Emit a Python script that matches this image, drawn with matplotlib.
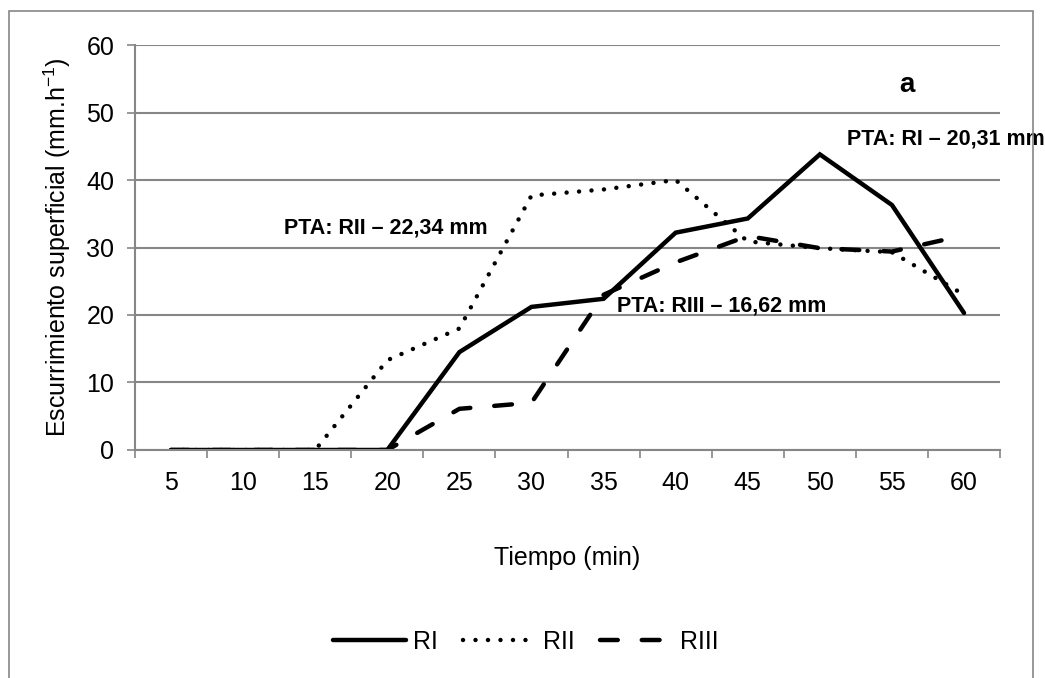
import matplotlib
matplotlib.use("Agg")
import matplotlib.pyplot as plt
from matplotlib.patches import Rectangle

plt.rcParams["font.family"] = ["Liberation Sans", "DejaVu Sans"]

# Data
tiempo = ["5", "10", "15", "20", "25", "30", "35", "40", "45", "50", "55", "60"]
ri = [0, 0, 0, 0, 14.5, 21.2, 22.4, 32.2, 34.3, 43.8, 36.3, 20.3]
rii = [0, 0, 0, 13.3, 18.0, 37.7, 38.6, 40.0, 30.9, 29.9, 29.3, 23.0]
riii = [0, 0, 0, 0, 6.1, 7.0, 23.0, 27.8, 31.7, 29.9, 29.4, 31.8]

grey = "#868686"
fs = 18

fig = plt.figure(figsize=(10.45, 6.78), dpi=100)
ax = fig.add_axes([0.1292, 0.3363, 0.8278, 0.5973])

x = list(range(len(tiempo)))
ax.plot(x, ri, color="black", lw=3.2, solid_capstyle="round", solid_joinstyle="miter", label="RI")
ax.plot(x, rii, color="black", lw=3.2, linestyle=(0, (0.01, 2.8)), dash_capstyle="round", label="RII")
ax.plot(x, riii, color="black", lw=3.2, linestyle=(0, (4.0, 5.4)), dash_capstyle="round", label="RIII")

ax.set_xlim(-0.5, len(tiempo) - 0.5)
ax.set_ylim(0, 60)
ax.set_yticks(range(0, 61, 10))
ax.set_xticks(x)
ax.set_xticklabels(tiempo)
ax.set_xticks([i - 0.5 for i in range(len(tiempo) + 1)], minor=True)
ax.tick_params(axis="x", which="major", length=0, labelsize=fs, pad=15)
ax.tick_params(axis="x", which="minor", length=6, color=grey, width=1.2)
ax.tick_params(axis="y", length=6, color=grey, width=1.2, labelsize=fs, pad=9)
ax.yaxis.grid(True, color=grey, lw=1.5)
ax.set_axisbelow(True)
for s in ["top", "right"]:
    ax.spines[s].set_visible(False)
for s in ["left", "bottom"]:
    ax.spines[s].set_color(grey)
    ax.spines[s].set_linewidth(1.5)

ax.set_ylabel(r"Escurrimiento superficial (mm.h$^{\mathregular{-1}}$)", fontsize=fs)
ax.yaxis.set_label_coords(-0.072, 0.5)
ax.set_xlabel("Tiempo (min)", fontsize=fs, labelpad=37)

ax.text(2.98, 32.9, "PTA: RII \u2013 22,34 mm", fontsize=15.5, fontweight="bold", ha="center", va="center")
ax.text(10.75, 46.1, "PTA: RI \u2013 20,31 mm", fontsize=15.5, fontweight="bold", ha="center", va="center")
ax.text(7.64, 21.3, "PTA: RIII \u2013 16,62 mm", fontsize=15.5, fontweight="bold", ha="center", va="center")
ax.text(10.21, 54.1, "a", fontsize=20, fontweight="bold", ha="center", va="center")

leg = fig.legend(loc="center", bbox_to_anchor=(0.503, 0.053), ncol=3, frameon=False,
                 fontsize=fs, handlelength=2.9, handletextpad=0.3, columnspacing=1.0)

fig.patches.append(Rectangle((9 / 1045, -0.01), 1024 / 1045, 1 - 11 / 678 + 0.01,
                             transform=fig.transFigure, fill=False, edgecolor=grey, lw=1.2))

fig.savefig("out.png", dpi=100)
